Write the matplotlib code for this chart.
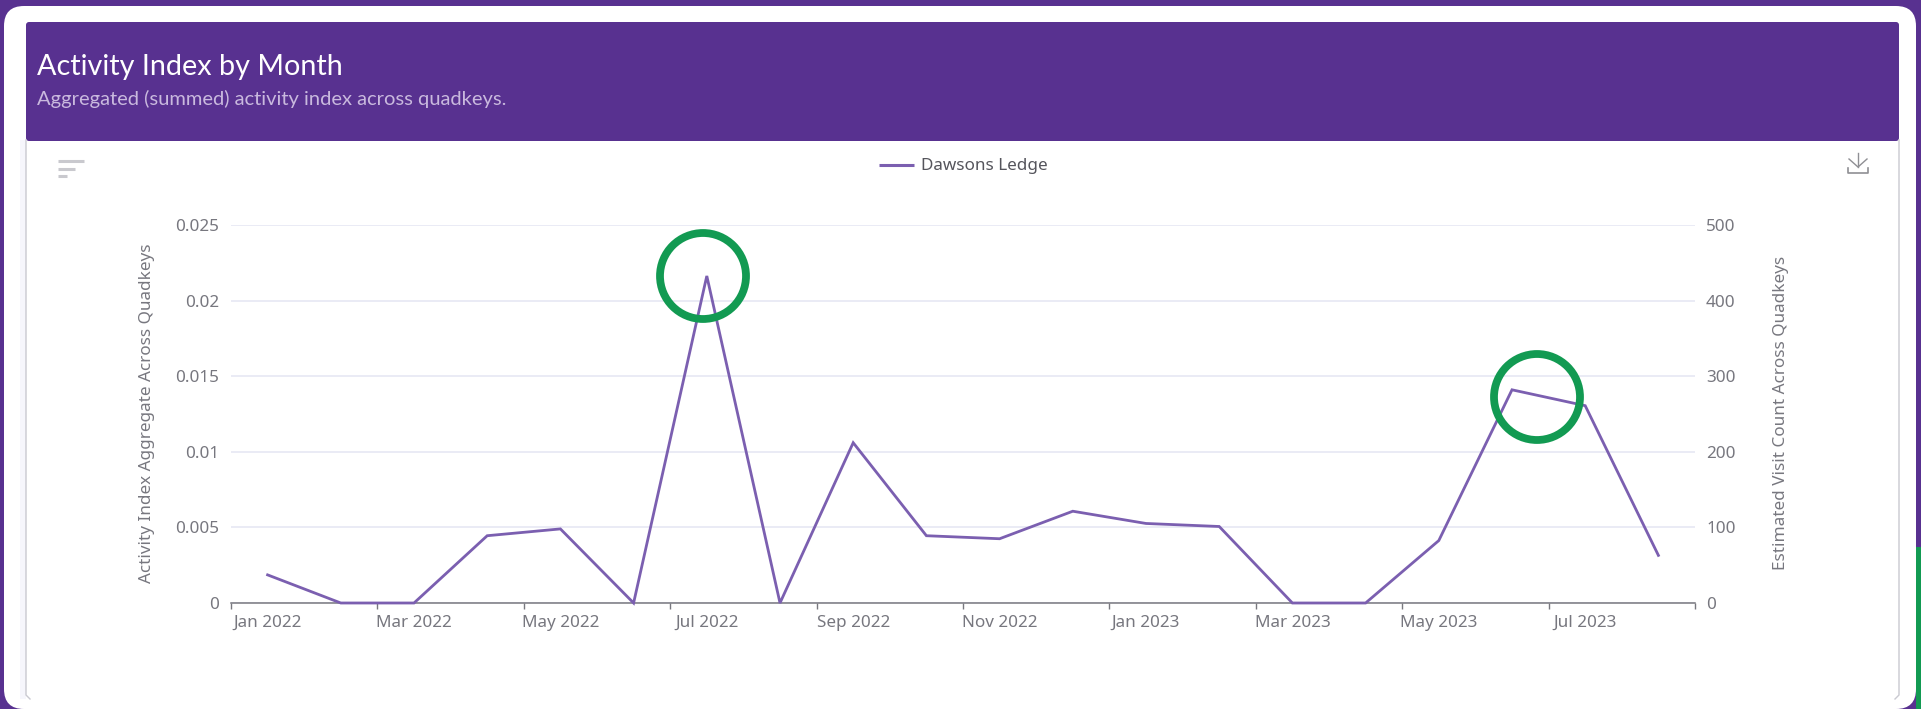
import numpy as np
import matplotlib
matplotlib.use("Agg")
import matplotlib.pyplot as plt
from matplotlib.patches import FancyBboxPatch, Rectangle, Circle

W, H = 1921, 709

months = ["Jan 2022", "Feb 2022", "Mar 2022", "Apr 2022", "May 2022", "Jun 2022", "Jul 2022",
          "Aug 2022", "Sep 2022", "Oct 2022", "Nov 2022", "Dec 2022", "Jan 2023", "Feb 2023",
          "Mar 2023", "Apr 2023", "May 2023", "Jun 2023", "Jul 2023", "Aug 2023"]
activity = [0.00186, 0, 0, 0.00445, 0.0049, 0, 0.02163, 0, 0.0106, 0.00445, 0.00425, 0.00607,
            0.00526, 0.00506, 0, 0, 0.00413, 0.0141, 0.01305, 0.00315]
left_ticks = [0, 0.005, 0.01, 0.015, 0.02, 0.025]
left_labels = ["0", "0.005", "0.01", "0.015", "0.02", "0.025"]
right_ticks = [0, 100, 200, 300, 400, 500]

PURPLE = "#583190"
LINE = "#7b5fb0"
GREEN = "#129a52"
TXT = "#77777f"
FONT = "Noto Sans"
TICK_SIZE = 12.3


def pix_axes(fig, z):
    ax = fig.add_axes([0, 0, 1, 1], zorder=z)
    ax.set_xlim(0, W)
    ax.set_ylim(H, 0)
    ax.axis("off")
    ax.patch.set_alpha(0)
    return ax


def draw_page(ax):
    ax.add_patch(Rectangle((1916, 547), 5, 162, color=GREEN, lw=0))
    ax.add_patch(FancyBboxPatch((4, 6), 1912, 703, boxstyle="round,pad=0,rounding_size=20",
                                fc="white", ec="none"))
    # card, its border only shows on the sides
    ax.add_patch(Rectangle((20, 140), 6, 559, color="#f6f6fc", lw=0))
    ax.plot([26, 26, 30], [140, 695, 699], color="#c9c9d0", lw=1)
    ax.plot([1899, 1899, 1895], [140, 695, 699], color="#c9c9d0", lw=1)
    ax.add_patch(FancyBboxPatch((26, 22), 1873, 119, boxstyle="round,pad=0,rounding_size=3",
                                fc=PURPLE, ec="none"))
    ax.text(37, 67, "Activity Index by Month", color="white", fontsize=20.7, family="Lato",
            va="center", ha="left")
    ax.text(37, 99, "Aggregated (summed) activity index across quadkeys.", color="#c9b9de",
            fontsize=14.5, family="Lato", va="center", ha="left")

    # toolbar icons
    for y, x2 in [(161, 84), (169, 75), (176, 67)]:
        ax.plot([58, x2], [y, y], color="#c9c9ce", lw=2.2, solid_capstyle="butt")
    icon = "#8f8f94"
    ax.plot([1858, 1858], [153, 167], color=icon, lw=1)
    ax.plot([1849, 1858, 1867], [159, 167, 159], color=icon, lw=1)
    ax.plot([1848, 1848, 1868, 1868], [168, 173, 173, 168], color=icon, lw=1.2)

    # legend
    ax.plot([879, 914], [165, 165], color=LINE, lw=2.2, solid_capstyle="butt")
    ax.text(921, 166, "Dawsons Ledge", color="#55555c", fontsize=12.3, family=FONT,
            va="center", ha="left")

    # axis titles
    ax.text(147, 413, "Activity Index Aggregate Across Quadkeys", rotation=90, color=TXT,
            fontsize=TICK_SIZE, family=FONT, ha="center", va="center")
    ax.text(1781, 413, "Estimated Visit Count Across Quadkeys", rotation=90, color=TXT,
            fontsize=TICK_SIZE, family=FONT, ha="center", va="center")


def main():
    fig = plt.figure(figsize=(W / 100, H / 100), dpi=100, facecolor=PURPLE)
    draw_page(pix_axes(fig, 0))

    x = np.arange(len(months))
    ax = fig.add_axes([231 / W, 1 - 603 / H, (1695 - 231) / W, (603 - 225) / H], zorder=1)
    ax.patch.set_alpha(0)
    ax.plot(x, activity, color=LINE, lw=2, solid_joinstyle="miter", clip_on=False, zorder=3)
    ax.set_xlim(-0.5, len(months) - 0.5)
    ax.set_ylim(0, 0.025)
    ax.set_yticks(left_ticks)
    ax.set_yticklabels(left_labels)
    ax.grid(axis="y", color="#e6e8f4", lw=1.2)
    ax.set_axisbelow(True)

    # ticks sit on the band edges, labels on the band centres
    ax.set_xticks(np.arange(-0.5, len(months), 2))
    ax.set_xticklabels([])
    ax.set_xticks(x[::2], [months[i] for i in x[::2]], minor=True)
    ax.tick_params(axis="x", which="major", length=4.3, width=1, color="#78787f")
    ax.tick_params(axis="x", which="minor", length=0, pad=8.5, labelsize=TICK_SIZE, labelcolor=TXT)
    ax.tick_params(axis="y", length=0, pad=8.5, labelsize=TICK_SIZE, labelcolor=TXT)

    for s in ["top", "left", "right"]:
        ax.spines[s].set_visible(False)
    ax.spines["bottom"].set_color("#78787f")
    ax.spines["bottom"].set_linewidth(1.1)

    ax2 = ax.twinx()
    ax2.set_ylim(0, 500)
    ax2.set_yticks(right_ticks)
    ax2.tick_params(axis="y", length=0, pad=8, labelsize=TICK_SIZE, labelcolor=TXT)
    for s in ax2.spines.values():
        s.set_visible(False)

    for a in [ax, ax2]:
        for t in a.get_xticklabels(which="both") + a.get_yticklabels():
            t.set_family(FONT)

    # green highlight rings
    top = pix_axes(fig, 3)
    top.add_patch(Circle((703, 276), 43, fc="none", ec=GREEN, lw=5.6))
    top.add_patch(Circle((1537, 397), 43, fc="none", ec=GREEN, lw=5.6))

    fig.savefig("out.png", dpi=100, facecolor=PURPLE)


if __name__ == "__main__":
    main()
